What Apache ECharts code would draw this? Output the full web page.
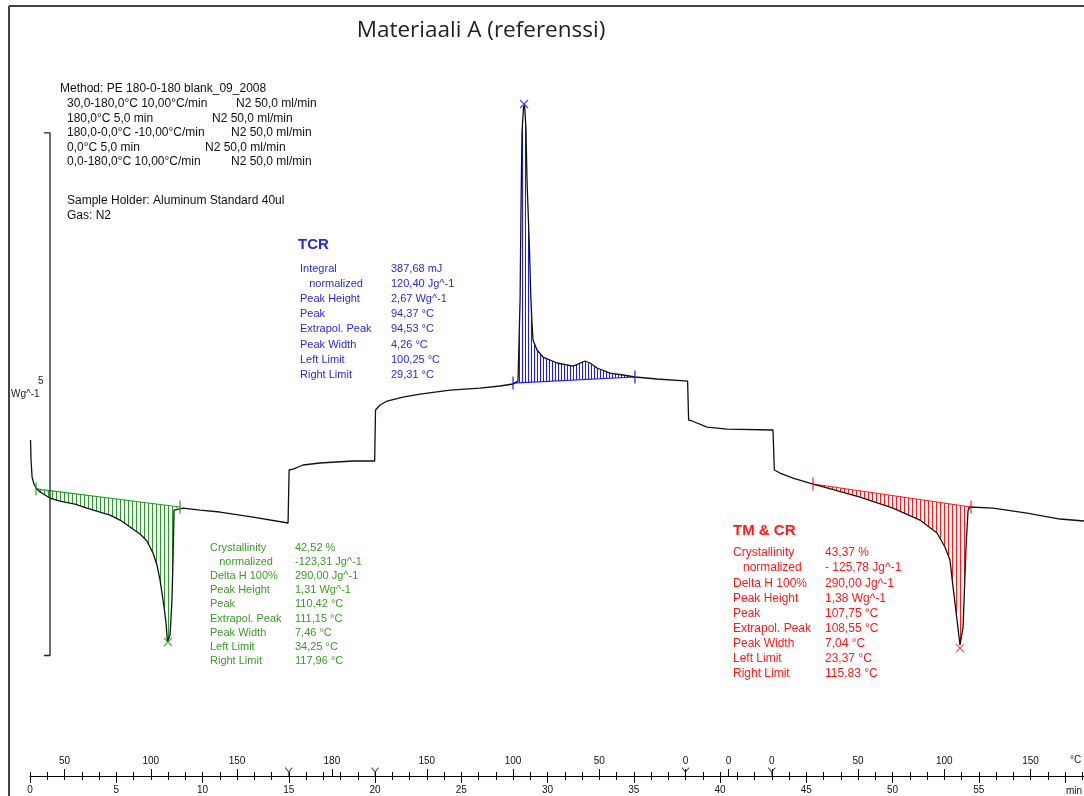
<!DOCTYPE html>
<html><head><meta charset="utf-8">
<script src="https://cdn.jsdelivr.net/npm/echarts@6/dist/echarts.min.js"></script>
<style>html,body{margin:0;padding:0;background:#fff}#c{width:1084px;height:796px}</style>
</head><body><div id="c"></div>
<script>
// ---------- DATA ----------
// DSC curve: time (min) and heat flow (W/g, arbitrary offset)
const curveTime = [0.03,0.06,0.12,0.23,0.35,0.58,1.16,1.74,2.61,3.30,4.06,4.64,5.22,5.80,6.38,6.78,7.13,7.36,7.54,7.65,7.77,7.88,7.97,8.12,8.23,8.29,8.35,8.46,8.87,9.86,11.01,12.93,14.96,15.02,15.25,15.83,16.81,18.72,19.98,20.03,20.29,20.70,21.62,22.61,24.35,26.09,27.25,28.00,28.29,28.41,28.46,28.52,28.61,28.67,28.75,28.81,28.93,29.04,29.10,29.16,29.39,29.74,30.55,31.48,31.77,32.17,32.46,32.87,33.62,34.38,35.07,36.35,38.12,38.18,38.38,39.25,40.41,43.07,43.15,43.48,44.23,45.39,46.20,48.12,50.03,51.59,52.58,53.04,53.33,53.51,53.74,53.91,54.09,54.26,54.38,54.49,55.83,57.80,59.71,61.10];
const curveHeatFlow = [0.347,0.156,-0.007,-0.074,-0.112,-0.151,-0.208,-0.237,-0.266,-0.304,-0.342,-0.371,-0.419,-0.486,-0.553,-0.620,-0.734,-0.849,-0.993,-1.117,-1.251,-1.395,-1.586,-1.519,-1.184,-0.801,-0.323,-0.304,-0.304,-0.323,-0.342,-0.390,-0.447,0.060,0.069,0.108,0.127,0.146,0.146,0.634,0.682,0.720,0.758,0.787,0.825,0.844,0.864,0.883,0.911,1.687,2.519,3.285,3.533,3.553,3.333,2.835,2.289,1.687,1.467,1.304,1.208,1.141,1.084,1.055,1.074,1.103,1.084,1.036,0.988,0.969,0.950,0.931,0.911,0.538,0.529,0.471,0.452,0.443,0.060,0.031,-0.017,-0.074,-0.112,-0.199,-0.304,-0.419,-0.543,-0.677,-0.801,-1.060,-1.376,-1.615,-1.443,-0.677,-0.323,-0.294,-0.304,-0.352,-0.409,-0.428];

// integration limits [tLeft, hfLeft, tRight, hfRight]
const meltLimits1 = [0.35, -0.12, 8.70, -0.294];
const crystLimits = [28.00, 0.892, 35.07, 0.950];
const meltLimits2 = [45.39, -0.074, 54.55, -0.294];
// peak markers [t, hf]
const meltPeak1 = [8.00, -1.586];
const crystPeak = [28.64, 3.562];
const meltPeak2 = [53.91, -1.644];

// axis ticks
const timeTickStep = 5;
const tempLabelTimes = [2, 7, 12, 17.5, 23, 28, 33, 38, 40.5, 43, 48, 53, 58];
const tempLabels = ['50','100','150','180','150','100','50','0','0','0','50','100','150'];
const segmentBoundaries = [15, 20, 38, 43];

// scale bar: 5 W/g
const scaleBarTop = 3.285;
const scaleBarSpan = 5;
const scaleBarTime = 1.16;

// texts
const titleText = 'Materiaali A (referenssi)';
const methodTitle = 'Method: PE 180-0-180 blank_09_2008';
const methodSteps = ['30,0-180,0°C 10,00°C/min','180,0°C 5,0 min','180,0-0,0°C -10,00°C/min','0,0°C 5,0 min','0,0-180,0°C 10,00°C/min'];
const methodGas = ['N2 50,0 ml/min','N2 50,0 ml/min','N2 50,0 ml/min','N2 50,0 ml/min','N2 50,0 ml/min'];
const sampleInfo = ['Sample Holder: Aluminum Standard 40ul','Gas: N2'];
const tcrTitle = 'TCR';
const tcrLabels = ['Integral','   normalized','Peak Height','Peak','Extrapol. Peak','Peak Width','Left Limit','Right Limit'];
const tcrValues = ['387,68 mJ','120,40 Jg^-1','2,67 Wg^-1','94,37 °C','94,53 °C','4,26 °C','100,25 °C','29,31 °C'];
const meltLabels = ['Crystallinity','   normalized','Delta H 100%','Peak Height','Peak','Extrapol. Peak','Peak Width','Left Limit','Right Limit'];
const melt1Values = ['42,52 %','-123,31 Jg^-1','290,00 Jg^-1','1,31 Wg^-1','110,42 °C','111,15 °C','7,46 °C','34,25 °C','117,96 °C'];
const tmcrTitle = 'TM & CR';
const melt2Values = ['43,37 %','- 125,78 Jg^-1','290,00 Jg^-1','1,38 Wg^-1','107,75 °C','108,55 °C','7,04 °C','23,37 °C','115,83 °C'];

// ---------- STYLE / LAYOUT ----------
const GREEN = '#2a9a2a', GREEN_TXT = '#3c9a28', BLUE = '#1a1aff', BLUE_TXT = '#2a2ae0', RED = '#ff1a1a';
const FONT = '"Liberation Sans", Arial, sans-serif';

function stripes(color, step) {
  const c = document.createElement('canvas');
  c.width = step; c.height = 4;
  const g = c.getContext('2d');
  g.fillStyle = color; g.fillRect(0, 0, 1, 4);
  return c;
}

const curve = curveTime.map((t, i) => [t, curveHeatFlow[i]]);

function hatchSeries(lim, color, step) {
  const pat = stripes(color, step);
  return {
    type: 'custom', xAxisIndex: 0, yAxisIndex: 0, z: 2, silent: true,
    data: [[lim[0], lim[1]]],
    renderItem: function (params, api) {
      const pts = [api.coord([lim[0], lim[1]])];
      curve.forEach(p => { if (p[0] > lim[0] && p[0] < lim[2]) pts.push(api.coord(p)); });
      pts.push(api.coord([lim[2], lim[3]]));
      const a = api.coord([lim[0], lim[1]]), b = api.coord([lim[2], lim[3]]);
      return { type: 'group', children: [
        { type: 'polygon', shape: { points: pts }, style: { fill: { image: pat, repeat: 'repeat' }, stroke: null } },
        { type: 'line', shape: { x1: a[0], y1: a[1], x2: b[0], y2: b[1] }, style: { stroke: color, lineWidth: 1.2 } }
      ]};
    }
  };
}

function markerSeries(lim, peak, color) {
  return [{
    type: 'scatter', xAxisIndex: 0, yAxisIndex: 0, z: 5, silent: true,
    symbol: 'rect', symbolSize: [1.5, 13],
    itemStyle: { color: color },
    data: [[lim[0], lim[1]], [lim[2], lim[3]]]
  }, {
    type: 'scatter', xAxisIndex: 0, yAxisIndex: 0, z: 5, silent: true,
    symbol: 'path://M0,0L10,10M10,0L0,10', symbolSize: 8,
    itemStyle: { color: 'none', borderColor: color, borderWidth: 1.2 },
    data: [peak]
  }];
}

function txt(x, y, text, fill, opt) {
  return Object.assign({ type: 'text', x: x, y: y, silent: true,
    style: Object.assign({ text: text, fill: fill, font: '11px ' + FONT, verticalAlign: 'middle' }, opt || {}) });
}
function block(x, top, lines, fill, lh, size) {
  return { type: 'text', x: x, y: top, silent: true,
    style: { text: lines.join('\n'), fill: fill, font: (size || 11) + 'px ' + FONT, lineHeight: lh, verticalAlign: 'top' } };
}

const gasX = [236, 212, 231, 205, 231];
const M12 = { font: '12px ' + FONT };
const graphics = [
  { type: 'line', shape: { x1: 9, y1: 6, x2: 9, y2: 796 }, style: { stroke: '#444', lineWidth: 2 } },
  { type: 'line', shape: { x1: 9, y1: 6, x2: 1084, y2: 6 }, style: { stroke: '#444', lineWidth: 2 } },
  txt(481, 31, titleText, '#222', { font: '22.5px "Open Sans", "Noto Sans", sans-serif', align: 'center' }),
  txt(60, 89, methodTitle, '#111', M12),
  block(67, 96.75, methodSteps, '#111', 14.5, 12),
  txt(67, 201, sampleInfo[0], '#111', M12),
  txt(67, 216, sampleInfo[1], '#111', M12),
  txt(298, 245, tcrTitle, BLUE_TXT, { font: 'bold 15px ' + FONT }),
  block(300, 261.5, tcrLabels, BLUE_TXT, 15.1),
  block(391, 261.5, tcrValues, BLUE_TXT, 15.1),
  block(210, 541, meltLabels, GREEN_TXT, 14.1),
  block(295, 541, melt1Values, GREEN_TXT, 14.1),
  txt(733, 531, tmcrTitle, RED, { font: 'bold 15px ' + FONT }),
  block(733, 545.5, meltLabels, RED, 15.1, 12),
  block(825, 545.5, melt2Values, RED, 15.1, 12),
  txt(38, 381, String(scaleBarSpan), '#222', { font: '10px ' + FONT }),
  txt(11, 394, 'Wg^-1', '#222', { font: '10px ' + FONT }),
  txt(1070, 760, '°C', '#111', { font: '10px ' + FONT }),
  txt(1066, 791, 'min', '#111', { font: '10px ' + FONT })
];
methodGas.forEach((g, i) => graphics.push(txt(gasX[i], 104 + i * 14.5, g, '#111', M12)));

const XMAX = 61.1;
const noZero = { onZero: false };
const chart = echarts.init(document.getElementById('c'), null, { renderer: 'canvas' });
chart.setOption({
  animation: false,
  backgroundColor: '#fff',
  grid: { left: 30, right: 0, top: 6, bottom: 20, containLabel: false },
  xAxis: [
    { type: 'value', position: 'bottom', min: 0, max: XMAX, interval: timeTickStep,
      axisLine: { onZero: false, lineStyle: { color: '#000', width: 1 } },
      axisTick: { length: 7, lineStyle: { color: '#000' } },
      minorTick: { show: true, splitNumber: 5, length: 4, lineStyle: { color: '#000' } },
      axisLabel: { color: '#111', fontSize: 10, fontFamily: FONT, margin: 9, showMaxLabel: false,
        formatter: v => (v >= 60 ? '' : String(v)) },
      splitLine: { show: false } },
    { type: 'value', position: 'bottom', min: 0, max: XMAX, interval: 1,
      axisLine: { show: false, onZero: false },
      axisTick: { inside: true, length: 4, lineStyle: { color: '#000' } },
      axisLabel: { show: false }, splitLine: { show: false } },
    { type: 'value', position: 'bottom', min: 0, max: XMAX,
      axisLine: { show: false, onZero: false },
      axisTick: { show: true, inside: true, length: 7, customValues: tempLabelTimes, lineStyle: { color: '#000' } },
      axisLabel: { show: true, inside: true, margin: 10, customValues: tempLabelTimes, color: '#111', fontSize: 10, fontFamily: FONT,
        formatter: v => { const i = tempLabelTimes.findIndex(t => Math.abs(t - v) < 1e-6); return i >= 0 ? tempLabels[i] : ''; } },
      splitLine: { show: false } }
  ],
  yAxis: { type: 'value', min: -2.868, max: 4.5, show: false },
  graphic: { elements: graphics },
  series: [
    hatchSeries(meltLimits1, GREEN, 4),
    hatchSeries(crystLimits, BLUE, 3),
    hatchSeries(meltLimits2, RED, 4),
    { type: 'line', data: curve, xAxisIndex: 0, yAxisIndex: 0, z: 4, showSymbol: false, silent: true,
      lineStyle: { color: '#111', width: 1.3 } },
    { type: 'line', xAxisIndex: 0, yAxisIndex: 0, z: 3, showSymbol: false, silent: true,
      lineStyle: { color: '#222', width: 1.3 },
      data: [[scaleBarTime - 0.35, scaleBarTop], [scaleBarTime, scaleBarTop], [scaleBarTime, scaleBarTop - scaleBarSpan], [scaleBarTime - 0.35, scaleBarTop - scaleBarSpan]] },
    ...markerSeries(meltLimits1, meltPeak1, GREEN),
    ...markerSeries(crystLimits, crystPeak, BLUE),
    ...markerSeries(meltLimits2, meltPeak2, RED),
    { type: 'scatter', xAxisIndex: 0, yAxisIndex: 0, z: 6, silent: true,
      symbol: 'path://M0,0L5,6L10,0M5,6L5,12', symbolSize: [7, 9],
      itemStyle: { color: 'none', borderColor: '#000', borderWidth: 1 },
      data: segmentBoundaries.map(t => [t, -2.83]) }
  ]
});
</script>
</body></html>
